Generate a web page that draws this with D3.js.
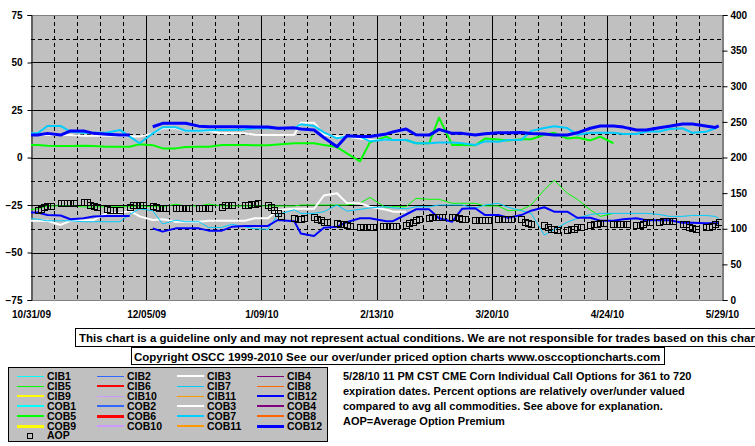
<!DOCTYPE html>
<html><head><meta charset="utf-8">
<script src="https://cdn.jsdelivr.net/npm/d3@7"></script>
<style>
body{margin:0;background:#fff}
svg{display:block}
text{font-family:"Liberation Sans",Arial,sans-serif;font-weight:bold;fill:#000}
</style>
</head><body>
<svg id="c" width="755" height="446"></svg>
<script>
// ---------- data ----------
const dates = ["2009-10-30","2009-11-02","2009-11-05","2009-11-09","2009-11-12","2009-11-16","2009-11-19","2009-11-23","2009-11-27","2009-11-30","2009-12-03","2009-12-07","2009-12-10","2009-12-14","2009-12-17","2009-12-21","2009-12-24","2009-12-28","2009-12-31","2010-01-04","2010-01-07","2010-01-11","2010-01-14","2010-01-19","2010-01-21","2010-01-25","2010-01-28","2010-02-01","2010-02-04","2010-02-08","2010-02-11","2010-02-16","2010-02-18","2010-02-22","2010-02-25","2010-03-01","2010-03-04","2010-03-08","2010-03-11","2010-03-15","2010-03-18","2010-03-22","2010-03-25","2010-03-29","2010-04-01","2010-04-05","2010-04-08","2010-04-12","2010-04-15","2010-04-19","2010-04-22","2010-04-26","2010-04-29","2010-05-03","2010-05-06","2010-05-10","2010-05-13","2010-05-17","2010-05-20","2010-05-24","2010-05-27","2010-05-28"];

const tickDates = ["2009-10-31","2009-12-05","2010-01-09","2010-02-13","2010-03-20","2010-04-24","2010-05-29"];
const tickLabels = ["10/31/09","12/05/09","1/09/10","2/13/10","3/20/10","4/24/10","5/29/10"];
const leftTicks = [75,50,25,0,-25,-50,-75];
const rightTicks = [400,350,300,250,200,150,100,50,0];

// percent over/under (left axis)
const cob12 = [11.8,11.8,12.7,11.8,14,14,12.7,12.2,11.8,11.8,null,16.2,18,18,18,16.5,16.2,16.2,16.2,16.2,16,16,15.4,15.6,15,14.5,10.5,5.7,11.5,11,11,12.4,13.5,15,12,11.8,14.8,12.7,12.7,11.8,12.5,13,13,13.2,12.6,12.4,11.8,11.8,13,15.4,16.6,16.6,16,14.5,14.5,15.7,16.5,17.6,17.6,16.6,15.8,16.6];
const cob7 = [12.7,12.7,16.6,16.6,13.5,13,13,13,14.5,11,7.5,12.7,15.9,15.9,14.1,14.1,14.3,14.5,14.5,14.8,15.4,15.4,15.4,15.4,17.5,16.6,13.2,10.1,11,11,8.5,9.5,9.2,9.2,7.5,7.5,7.9,7.9,7.5,6.6,8.5,8.3,9.2,9.2,14,15.5,16.5,15.5,12,13,13,13,12.4,12.4,13.7,13.7,15,15.4,13,13.5,15.4,16.6];
const cob3 = [11.8,11.8,12,11.8,11.8,11.5,11.5,11.5,11.5,11.2,11,12.7,15.4,15.4,14.1,14.1,14.1,12.7,12.7,12.7,12,11.8,11.8,12,18.3,18.3,12,11,11,10,9.2,9.2,null,null,null,null,null,null,null,null,null,null,null,null,null,null,null,null,null,null,null,null,null,null,null,null,null,null,null,null,null,null];
const cob5 = [6.6,6.6,6.2,6,6,6.2,6,5.7,5.7,5.7,7,6.5,4.8,4.8,5.5,5.7,5.7,6.6,6.6,6.6,6.4,6.4,6.8,7.5,7.5,7.5,6.6,5.5,2.2,-2,8,11,9.2,9.2,7.5,7.5,21,6.6,6.6,6.4,10,9.5,9,9.6,9.6,12,13,10,10.5,9,11,7.5,null,null,null,null,null,null,null,null,null,null];
const cib12 = [-29,-29,-30.3,-30.5,-32.5,-32,-31,-30.8,-30.8,-30.8,null,-37.3,-39,-37.3,-37.3,-37.3,-38.5,-38.5,-36.5,-36,-36,-36,-32.9,-33.5,-40,-41.3,-37,-36.4,-34,-32,-32,-33.5,-33.5,-30,-27.3,-27.3,-32,-33.8,-27,-26.7,-30.3,-30.3,-31.7,-30.3,-28,-26.2,-28.5,-28.5,-31.7,-31.7,-33.3,-33.3,-32.5,-32,-33,-33,-33,-34.3,-34.3,-34.6,-34.6,-34.6];
const cib7 = [-32,-32.5,-33.3,-33.3,-33.3,-33.8,-33.8,-33.8,-33.8,-30,-27,-28,-35,-33,-33.8,-33.8,-36.8,-36.8,-35.1,-36.5,-37.5,-37.8,-30,-27.5,-29.4,-29.4,-28.5,-25,-28.2,-27.3,-26.5,-25.9,-26.5,-27,-25.9,-25.9,-25,-25,-25,-26.7,-25,-24.1,-26.2,-28,-29.4,-40.8,-38,-34,-32,-30,-29.4,-29.4,-29.4,-29.4,-29.4,-30,-31,-31,-30.5,-30.5,-31,-32];
const cib3 = [-33.3,-33.3,-33.3,-35.5,-33.3,-33,-33,-29.4,-29.4,-28,-31,-32.9,-32.5,-33.8,-33.8,-33.8,-33.3,-33.3,-33.3,-33.3,-32,-32,-27.6,-27,-27,-27,-20,-18.8,-24,-24.1,-25.9,-27.5,-28.5,-28.5,null,null,null,null,null,null,null,null,null,null,null,null,null,null,null,null,null,null,null,null,null,null,null,null,null,null,null,null];
const cib5 = [-27.6,-27,-25.5,-25.5,-25.5,-26,-26,-25.9,-25.9,-25.9,-25.5,-25.9,-25.9,-24.6,-25.5,-25.5,-24.5,-25.5,-25.5,-25.5,-25.5,-25.5,-25.5,-25.5,-25,-25,-25,-25,-25,-24,-21,-26.5,-25.9,-25.9,-21.5,-22,-22,-24.1,-24.1,-24.1,-25.5,-25.5,-28,-27.5,-25,-17,-12,-18.8,-22,-27.6,-31,-29.4,null,null,null,null,null,null,null,null,null,null];

// Average Option Premium (right axis), Monday of each week + Mon..Fri values
const aopWeeks = ["2009-11-02","2009-11-09","2009-11-16","2009-11-23","2009-11-30","2009-12-07","2009-12-14","2009-12-21","2009-12-28","2010-01-04","2010-01-11","2010-01-18","2010-01-25","2010-02-01","2010-02-08","2010-02-15","2010-02-22","2010-03-01","2010-03-08","2010-03-15","2010-03-22","2010-03-29","2010-04-05","2010-04-12","2010-04-19","2010-04-26","2010-05-03","2010-05-10","2010-05-17","2010-05-24"];
const aopValues = [
 [127,128,131,132,132],[136,136,136,136,136],[137,137,134,132,131],[128,127,126,null,127],
 [130,133,134,134,134],[132,131,129,129,129],[129,129,129,129,129],[129,129,129,129,null],
 [130,133,133,133,null],[134,134,135,135,136],[133,130,126,122,118],[null,115,114,114,115],
 [116,114,112,110,110],[108,107,106,105,104],[103,103,103,103,103],[104,104,104,104,104],
 [105,108,110,112,113],[115,116,117,116,116],[116,116,115,114,113],[112,112,112,112,112],
 [113,113,113,113,113],[113,110,108,107,null],[105,103,100,99,98],[98,99,100,102,103],
 [105,106,107,108,108],[107,106,106,106,106],[105,105,107,109,109],[110,111,111,111,111],
 [107,106,103,101,100],[102,103,104,107,109]
];

// legend
const legendNames = ["CIB1","CIB2","CIB3","CIB4","CIB5","CIB6","CIB7","CIB8","CIB9","CIB10","CIB11","CIB12",
                     "COB1","COB2","COB3","COB4","COB5","COB6","COB7","COB8","COB9","COB10","COB11","COB12"];
const legendColors = ["#00ffff","#3366ff","#ffffff","#800080","#00ff00","#ff0000","#00ccff","#ff6600","#ffff00","#cc99ff","#ff9900","#0000ff",
                      "#00ffff","#3366ff","#ffffff","#800080","#00ff00","#ff0000","#00ccff","#ff6600","#ffff00","#cc99ff","#ff9900","#0000ff"];
const legendWidths = [1,1,2,1,1,2,1,1,2,1,1,2, 2,2,2,2,2,3,2,2,3,2,2,3];

const disclaimer = "This chart is a guideline only and may not represent actual conditions. We are not responsible for trades based on this chart.";
const copyright = "Copyright OSCC 1999-2010 See our over/under priced option charts www.osccoptioncharts.com";
const notes = ["5/28/10 11 PM CST CME Corn Individual Call Options for 361 to 720",
               "expiration dates. Percent options are relatively over/under valued",
               "compared to avg all commodities. See above for explanation.",
               "AOP=Average Option Premium"];

// ---------- drawing ----------
const svg = d3.select("#c");
const parse = d3.timeParse("%Y-%m-%d");
const L = 31, R = 722, T = 15, B = 300;
const x = d3.scaleTime().domain([parse("2009-10-31"), parse("2010-05-29")]).range([L, R]);
const yL = d3.scaleLinear().domain([-75, 75]).range([B, T]);
const yR = d3.scaleLinear().domain([0, 400]).range([B, T]);
const px = v => Math.round(v) + 0.5;

svg.append("rect").attr("x", L).attr("y", T).attr("width", R - L).attr("height", B - T).attr("fill", "#c0c0c0");

const grid = svg.append("g");
// horizontal grid lines every 12.5 (solid at multiples of 25)
d3.range(-62.5, 75, 12.5).forEach(v => {
  grid.append("line").attr("x1", L).attr("x2", R).attr("y1", px(yL(v))).attr("y2", px(yL(v)))
    .attr("stroke", "#000").attr("stroke-width", 1)
    .attr("stroke-dasharray", v % 25 === 0 ? null : "4,3");
});
// vertical weekly grid lines (solid at labelled dates)
const weeks = d3.timeSaturday.range(parse("2009-10-31"), parse("2010-05-29"));
weeks.forEach((d, i) => {
  if (i === 0) return;
  grid.append("line").attr("x1", px(x(d))).attr("x2", px(x(d))).attr("y1", T).attr("y2", B)
    .attr("stroke", "#000").attr("stroke-width", 1)
    .attr("stroke-dasharray", i % 5 === 0 ? null : "4,3");
});
// border
svg.append("line").attr("x1", L).attr("x2", R).attr("y1", T + 0.5).attr("y2", T + 0.5).attr("stroke", "#808080");
svg.append("line").attr("x1", L).attr("x2", R).attr("y1", B + 0.5).attr("y2", B + 0.5).attr("stroke", "#808080");

// axes
const fmtAxis = g => { g.selectAll("text").style("font-size", "10px").style("font-weight", "bold").style("font-family", '"Liberation Sans",Arial,sans-serif'); };
svg.append("g").attr("transform", `translate(${L + 0.5},0)`)
  .call(d3.axisLeft(yL).tickValues(leftTicks).tickSize(4).tickPadding(5).tickFormat(d3.format("d")))
  .call(g => g.select(".domain").attr("stroke", "#000"))
  .call(fmtAxis);
svg.append("g").attr("transform", `translate(${R + 0.5},0)`)
  .call(d3.axisRight(yR).tickValues(rightTicks).tickSize(5).tickPadding(3).tickFormat(d3.format("d")))
  .call(g => g.select(".domain").attr("stroke", "#000"))
  .call(fmtAxis);
svg.append("g").attr("transform", `translate(0,${B})`)
  .call(d3.axisBottom(x).tickValues(tickDates.map(parse)).tickSize(0).tickPadding(11)
        .tickFormat((d, i) => tickLabels[i]))
  .call(g => g.select(".domain").remove())
  .call(fmtAxis);

// series lines
svg.append("clipPath").attr("id", "clip").append("rect").attr("x", L).attr("y", T).attr("width", R - L).attr("height", B - T);
const plot = svg.append("g").attr("clip-path", "url(#clip)");
const pd = dates.map(parse);
const line = d3.line().defined(d => d.v != null).x(d => x(d.date)).y(d => yL(d.v));
const plotted = [["CIB5", cib5], ["CIB3", cib3], ["CIB7", cib7], ["CIB12", cib12],
                 ["COB5", cob5], ["COB3", cob3], ["COB7", cob7], ["COB12", cob12]];
plotted.forEach(([name, vals]) => {
  const k = legendNames.indexOf(name);
  plot.append("path").datum(vals.map((v, i) => ({ date: pd[i], v })))
    .attr("d", line).attr("fill", "none")
    .attr("stroke", legendColors[k]).attr("stroke-width", legendWidths[k])
    .attr("stroke-linejoin", "round");
});

// AOP squares
const aop = [];
aopWeeks.forEach((w, wi) => {
  const m = parse(w);
  aopValues[wi].forEach((v, di) => { if (v != null) aop.push({ date: d3.timeDay.offset(m, di), v }); });
});
plot.selectAll("rect.aop").data(aop).enter().append("rect").attr("class", "aop")
  .attr("x", d => Math.round(x(d.date)) - 3 + 0.5).attr("y", d => Math.round(yR(d.v)) - 3 + 0.5)
  .attr("width", 6).attr("height", 6).attr("fill", "none").attr("stroke", "#000").attr("stroke-width", 1);

// disclaimer boxes
svg.append("rect").attr("x", 75.5).attr("y", 328.5).attr("width", 700).attr("height", 18).attr("fill", "#fff").attr("stroke", "#000");
svg.append("text").attr("x", 79).attr("y", 341.5).style("font-size", "11.5px").text(disclaimer);
svg.append("rect").attr("x", 131.5).attr("y", 347.5).attr("width", 533).attr("height", 17).attr("fill", "#fff").attr("stroke", "#000");
svg.append("text").attr("x", 134).attr("y", 360.5).style("font-size", "11.5px").text(copyright);

// notes
notes.forEach((t, i) => svg.append("text").attr("x", 343).attr("y", 380 + 15 * i).style("font-size", "11px").text(t));

// legend
const lg = svg.append("g");
lg.append("rect").attr("x", 8.5).attr("y", 367.5).attr("width", 319).attr("height", 74).attr("fill", "#c0c0c0").attr("stroke", "#000");
legendNames.forEach((n, i) => {
  const row = Math.floor(i / 4), col = i % 4;
  const base = 380 + 9.9 * row;
  const ly = Math.round(base - 4) + (legendWidths[i] % 2 ? 0.5 : 0);
  lg.append("line").attr("x1", 17 + 80 * col).attr("x2", 44 + 80 * col).attr("y1", ly).attr("y2", ly)
    .attr("stroke", legendColors[i]).attr("stroke-width", legendWidths[i]);
  lg.append("text").attr("x", 47 + 80 * col).attr("y", base).style("font-size", "10.5px").text(n);
});
lg.append("rect").attr("x", 27.5).attr("y", 433.5).attr("width", 5).attr("height", 5).attr("fill", "none").attr("stroke", "#000");
lg.append("text").attr("x", 47).attr("y", 380 + 9.9 * 6).style("font-size", "10.5px").text("AOP");
</script>
</body></html>
